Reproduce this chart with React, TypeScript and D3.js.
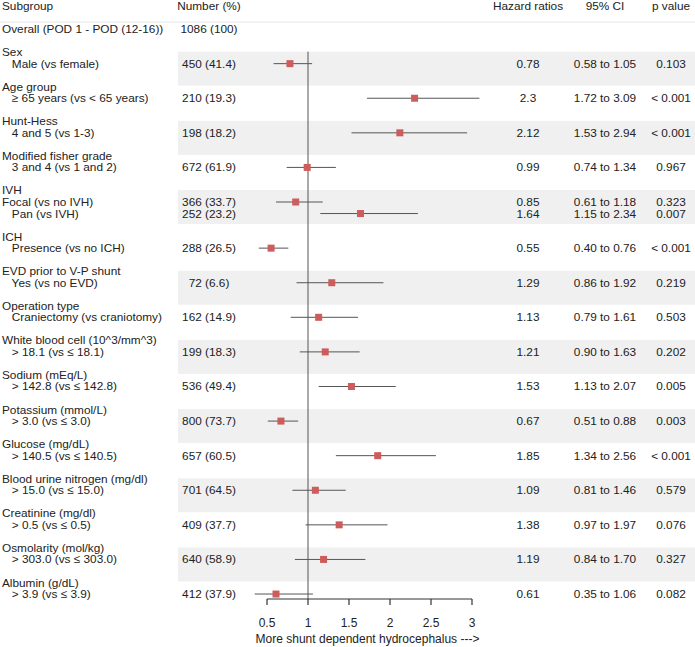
import React from "react";
import * as d3 from "d3";

const headers = ["Subgroup", "Number (%)", "Hazard ratios", "95% CI", "p value"];
const overallLabel = "Overall (POD 1 - POD (12-16))";
const overallNumber = "1086 (100)";

const groupNames = [
  "Sex", "Age group", "Hunt-Hess", "Modified fisher grade", "IVH", "ICH",
  "EVD prior to V-P shunt", "Operation type", "White blood cell (10^3/mm^3)",
  "Sodium (mEq/L)", "Potassium (mmol/L)", "Glucose (mg/dL)",
  "Blood urine nitrogen (mg/dl)", "Creatinine (mg/dl)", "Osmolarity (mol/kg)", "Albumin (g/dL)",
];

// group index of every subgroup row
const itemGroup = [0, 1, 2, 3, 4, 4, 5, 6, 7, 8, 9, 10, 11, 12, 13, 14, 15];
const itemLabels = [
  "   Male (vs female)",
  "   \u2265 65 years (vs < 65 years)",
  "   4 and 5 (vs 1-3)",
  "   3 and 4 (vs 1 and 2)",
  "Focal (vs no IVH)",
  "   Pan (vs IVH)",
  "   Presence (vs no ICH)",
  "   Yes (vs no EVD)",
  "   Craniectomy (vs craniotomy)",
  "   > 18.1 (vs \u2264 18.1)",
  "   > 142.8 (vs \u2264 142.8)",
  "   > 3.0 (vs \u2264 3.0)",
  "   > 140.5 (vs \u2264 140.5)",
  "   > 15.0 (vs \u2264 15.0)",
  "   > 0.5 (vs \u2264 0.5)",
  "   > 303.0 (vs \u2264 303.0)",
  "   > 3.9 (vs \u2264 3.9)",
];
const numbers = [
  "450 (41.4)", "210 (19.3)", "198 (18.2)", "672 (61.9)", "366 (33.7)", "252 (23.2)",
  "288 (26.5)", "72 (6.6)", "162 (14.9)", "199 (18.3)", "536 (49.4)", "800 (73.7)",
  "657 (60.5)", "701 (64.5)", "409 (37.7)", "640 (58.9)", "412 (37.9)",
];
const hr = [0.78, 2.3, 2.12, 0.99, 0.85, 1.64, 0.55, 1.29, 1.13, 1.21, 1.53, 0.67, 1.85, 1.09, 1.38, 1.19, 0.61];
const lower = [0.58, 1.72, 1.53, 0.74, 0.61, 1.15, 0.40, 0.86, 0.79, 0.90, 1.13, 0.51, 1.34, 0.81, 0.97, 0.84, 0.35];
const upper = [1.05, 3.09, 2.94, 1.34, 1.18, 2.34, 0.76, 1.92, 1.61, 1.63, 2.07, 0.88, 2.56, 1.46, 1.97, 1.70, 1.06];
const hrLabels = ["0.78", "2.3", "2.12", "0.99", "0.85", "1.64", "0.55", "1.29", "1.13", "1.21", "1.53", "0.67", "1.85", "1.09", "1.38", "1.19", "0.61"];
const ciLabels = [
  "0.58 to 1.05", "1.72 to 3.09", "1.53 to 2.94", "0.74 to 1.34", "0.61 to 1.18", "1.15 to 2.34",
  "0.40 to 0.76", "0.86 to 1.92", "0.79 to 1.61", "0.90 to 1.63", "1.13 to 2.07", "0.51 to 0.88",
  "1.34 to 2.56", "0.81 to 1.46", "0.97 to 1.97", "0.84 to 1.70", "0.35 to 1.06",
];
const pLabels = [
  "0.103", "< 0.001", "< 0.001", "0.967", "0.323", "0.007", "< 0.001", "0.219", "0.503",
  "0.202", "0.005", "0.003", "< 0.001", "0.579", "0.076", "0.327", "0.082",
];
const axisTicks = [0.5, 1, 1.5, 2, 2.5, 3];
const axisTitle = "More shunt dependent hydrocephalus --->";

const W = 695;
const H = 647;
const LINE = 11.53;
const TOP = 6;
const FONT = "'Liberation Sans', Arial, sans-serif";
const FS = 11.8;
const TEXT = "#222";

export default function App() {
  const x = d3.scaleLinear().domain([0.5, 3]).range([267, 472]);
  const lineY = (i: number) => TOP + i * LINE;

  // compute line index for each group header and item
  const groupStart: number[] = [];
  const itemLine: number[] = [];
  let line = 4;
  groupNames.forEach((_, g) => {
    groupStart[g] = line;
    let k = 1;
    itemGroup.forEach((gg, i) => {
      if (gg === g) {
        itemLine[i] = line + k;
        k++;
      }
    });
    line += k + 1;
  });

  const colX = { sub: 2, num: 209, hr: 528, ci: 605, p: 671 };
  const axisY = 599;
  const refTop = lineY(itemLine[0]) - 12;

  const textProps = {
    fontFamily: FONT,
    fontSize: FS,
    fill: TEXT,
    dominantBaseline: "central" as const,
    style: { whiteSpace: "pre" as const },
  };

  return (
    <svg width={W} height={H} style={{ position: "absolute", left: 0, top: 0, background: "#fff" }}>
      {/* bands */}
      {groupNames.map((_, g) => {
        if (g % 2 !== 0) return null;
        const first = itemGroup.indexOf(g);
        const y0 = lineY(itemLine[first]) - 12;
        return <rect key={"b" + g} x={178} y={y0} width={W - 178} height={34} fill="#f0f0f0" />;
      })}
      {/* header line */}
      <line x1={0} x2={W} y1={22} y2={22} stroke="#e6e6e6" strokeWidth={1} />

      {/* headers */}
      <text {...textProps} x={colX.sub} y={lineY(0)}>{headers[0]}</text>
      <text {...textProps} x={colX.num} y={lineY(0)} textAnchor="middle">{headers[1]}</text>
      <text {...textProps} x={colX.hr} y={lineY(0)} textAnchor="middle">{headers[2]}</text>
      <text {...textProps} x={colX.ci} y={lineY(0)} textAnchor="middle">{headers[3]}</text>
      <text {...textProps} x={colX.p} y={lineY(0)} textAnchor="middle">{headers[4]}</text>

      <text {...textProps} x={colX.sub} y={lineY(2)}>{overallLabel}</text>
      <text {...textProps} x={colX.num} y={lineY(2)} textAnchor="middle">{overallNumber}</text>

      {groupNames.map((name, g) => (
        <text key={"g" + g} {...textProps} x={colX.sub} y={lineY(groupStart[g])}>{name}</text>
      ))}

      {itemLabels.map((lab, i) => {
        const y = lineY(itemLine[i]);
        return (
          <g key={"i" + i}>
            <text {...textProps} x={colX.sub} y={y}>{lab}</text>
            <text {...textProps} x={colX.num} y={y} textAnchor="middle">{numbers[i]}</text>
            <text {...textProps} x={colX.hr} y={y} textAnchor="middle">{hrLabels[i]}</text>
            <text {...textProps} x={colX.ci} y={y} textAnchor="middle">{ciLabels[i]}</text>
            <text {...textProps} x={colX.p} y={y} textAnchor="middle">{pLabels[i]}</text>
          </g>
        );
      })}

      {/* reference line */}
      <line x1={x(1)} x2={x(1)} y1={refTop} y2={axisY} stroke="#555" strokeWidth={1} />

      {/* CIs and markers */}
      {hr.map((v, i) => {
        const y = lineY(itemLine[i]);
        return (
          <g key={"m" + i}>
            <line x1={x(lower[i])} x2={x(upper[i])} y1={y} y2={y} stroke="#555" strokeWidth={1} />
            <rect x={x(v) - 3.5} y={y - 3.5} width={7} height={7} fill="#cd5c5c" />
          </g>
        );
      })}

      {/* axis */}
      <line x1={x(0.5)} x2={x(3)} y1={axisY} y2={axisY} stroke="#333" strokeWidth={1.2} />
      {axisTicks.map((t) => (
        <g key={"t" + t}>
          <line x1={x(t)} x2={x(t)} y1={axisY} y2={axisY + 6} stroke="#333" strokeWidth={1.2} />
          <text x={x(t)} y={623} textAnchor="middle" dominantBaseline="central" fontFamily={FONT} fontSize={12} fill={TEXT}>
            {String(t)}
          </text>
        </g>
      ))}
      <text x={(x(0.5) + x(3)) / 2 - 2} y={639} textAnchor="middle" dominantBaseline="central" fontFamily={FONT} fontSize={12} fill={TEXT}>
        {axisTitle}
      </text>
    </svg>
  );
}
